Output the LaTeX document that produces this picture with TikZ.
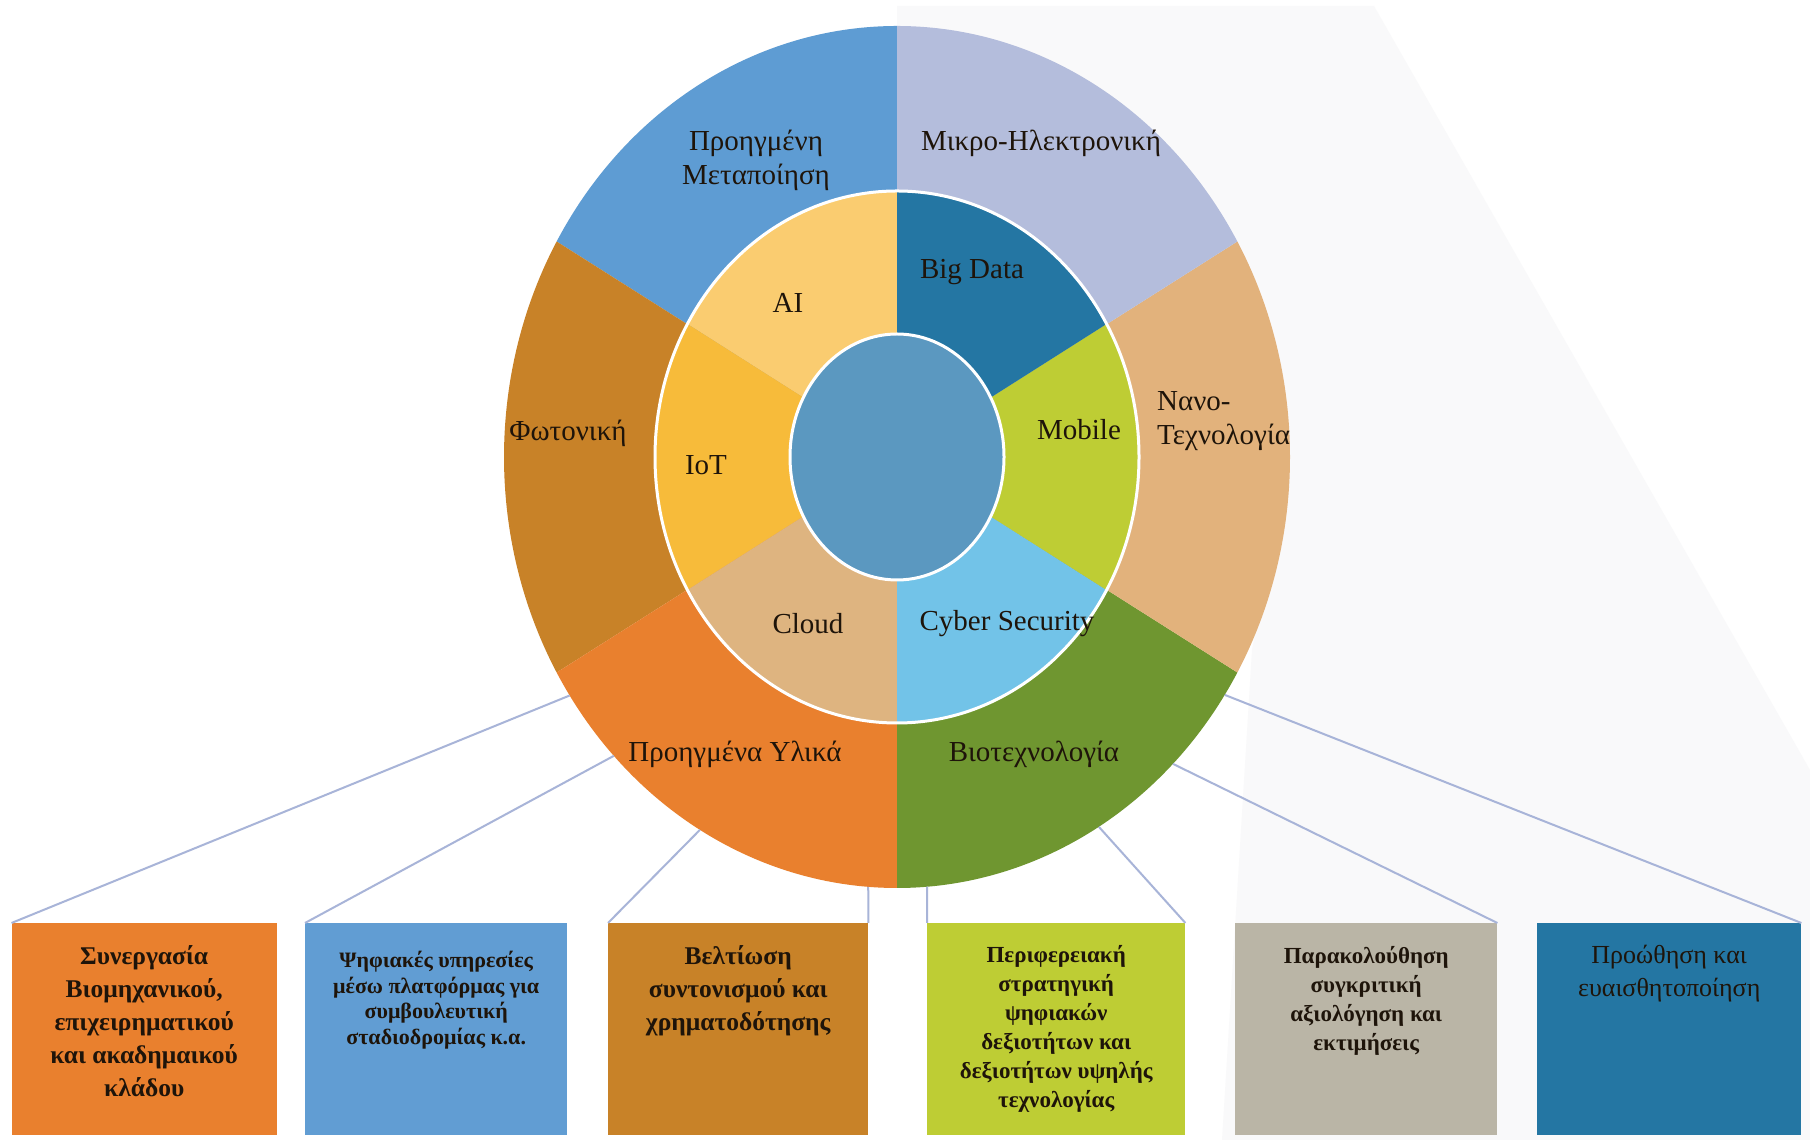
\documentclass[tikz,border=0pt]{standalone}
\usepackage{fontspec}
\setmainfont{Liberation Serif}
\definecolor{cMet}{HTML}{5E9CD3}
\definecolor{cMik}{HTML}{B4BDDC}
\definecolor{cNan}{HTML}{E2B27C}
\definecolor{cBio}{HTML}{6F9630}
\definecolor{cYli}{HTML}{E9802E}
\definecolor{cFot}{HTML}{C88228}
\definecolor{cAI}{HTML}{FACC70}
\definecolor{cBig}{HTML}{2476A3}
\definecolor{cMob}{HTML}{BECD34}
\definecolor{cCyb}{HTML}{72C3E8}
\definecolor{cClo}{HTML}{DEB480}
\definecolor{cIoT}{HTML}{F7BB3A}
\definecolor{cIn}{HTML}{5B98C0}
\definecolor{cBlue}{HTML}{619DD3}
\definecolor{cGrey}{HTML}{BAB5A6}
\definecolor{cBg}{HTML}{F9F9FA}
\definecolor{cLine}{HTML}{A8B4D8}
\definecolor{cTxt}{HTML}{1E140A}
\begin{document}
\begin{tikzpicture}[x=1pt,y=1pt,
  box/.style={draw=none, minimum height=212pt, anchor=north west, inner sep=0pt},
  btext/.style={align=center, anchor=north, inner sep=0pt, text=cTxt},
  lab/.style={align=center, inner sep=0pt, text=cTxt, font=\fontsize{29}{34}\selectfont},
  conn/.style={draw=cLine, line width=2pt}]
\useasboundingbox (0,0) rectangle (1810,1140);
\fill[white] (0,0) rectangle (1810,1140);
\fill[cBg] (897,1134) -- (1374,1134) -- (1810,370) -- (1810,0) -- (1222,0) -- (1252,490) -- (1280,640) -- (897,683) -- cycle;

% boxes
\node[box, fill=cYli,  minimum width=265pt] (b1) at (11.5,217) {};
\node[box, fill=cBlue, minimum width=262pt] (b2) at (305,217) {};
\node[box, fill=cFot,  minimum width=260pt] (b3) at (608,217) {};
\node[box, fill=cMob,  minimum width=258pt] (b4) at (927,217) {};
\node[box, fill=cGrey, minimum width=262pt] (b5) at (1235,217) {};
\node[box, fill=cBig,  minimum width=264pt] (b6) at (1537,217) {};

\node[btext, font=\fontsize{25.5}{33}\selectfont\bfseries] (t1) at ([yshift=-22pt]b1.north) {Συνεργασία\\Βιομηχανικού,\\επιχειρηματικού\\και ακαδημαικού\\κλάδου};
\node[btext, font=\fontsize{22}{25.5}\selectfont\bfseries] (t2) at ([yshift=-28pt]b2.north) {Ψηφιακές υπηρεσίες\\μέσω πλατφόρμας για\\συμβουλευτική\\σταδιοδρομίας κ.α.};
\node[btext, font=\fontsize{25.5}{33}\selectfont\bfseries] (t3) at ([yshift=-22pt]b3.north) {Βελτίωση\\συντονισμού και\\χρηματοδότησης};
\node[btext, font=\fontsize{23}{29}\selectfont\bfseries] (t4) at ([yshift=-22pt]b4.north) {Περιφερειακή\\στρατηγική\\ψηφιακών\\δεξιοτήτων και\\δεξιοτήτων υψηλής\\τεχνολογίας};
\node[btext, font=\fontsize{23}{29}\selectfont\bfseries] (t5) at ([yshift=-23pt]b5.north) {Παρακολούθηση\\συγκριτική\\αξιολόγηση και\\εκτιμήσεις};
\node[btext, font=\fontsize{26}{33}\selectfont] (t6) at ([yshift=-22pt]b6.north) {Προώθηση και\\ευαισθητοποίηση};

% outer ring
\begin{scope}[shift={(897,683)}, xscale=393, yscale=431]
  \fill[cMet] (0,0) -- (90:1)  arc[start angle=90,  end angle=150, radius=1] -- cycle;
  \fill[cFot] (0,0) -- (150:1) arc[start angle=150, end angle=210, radius=1] -- cycle;
  \fill[cYli] (0,0) -- (210:1) arc[start angle=210, end angle=270, radius=1] -- cycle;
  \fill[cBio] (0,0) -- (270:1) arc[start angle=270, end angle=330, radius=1] -- cycle;
  \fill[cNan] (0,0) -- (330:1) arc[start angle=330, end angle=390, radius=1] -- cycle;
  \fill[cMik] (0,0) -- (30:1)  arc[start angle=30,  end angle=90,  radius=1] -- cycle;
  \coordinate (s1) at (213.6:1);
  \coordinate (s2) at (223.9:1);
  \coordinate (s3) at (239.9:1);
  \coordinate (s4) at (265.8:1);
  \coordinate (s5) at (274.4:1);
  \coordinate (s6) at (300.9:1);
  \coordinate (s7) at (314.6:1);
  \coordinate (s8) at (326.5:1);
\end{scope}
% middle ring
\begin{scope}[shift={(897,683)}, xscale=242, yscale=266]
  \fill[cAI]  (0,0) -- (90:1)  arc[start angle=90,  end angle=150, radius=1] -- cycle;
  \fill[cIoT] (0,0) -- (150:1) arc[start angle=150, end angle=210, radius=1] -- cycle;
  \fill[cClo] (0,0) -- (210:1) arc[start angle=210, end angle=270, radius=1] -- cycle;
  \fill[cCyb] (0,0) -- (270:1) arc[start angle=270, end angle=330, radius=1] -- cycle;
  \fill[cMob] (0,0) -- (330:1) arc[start angle=330, end angle=390, radius=1] -- cycle;
  \fill[cBig] (0,0) -- (30:1)  arc[start angle=30,  end angle=90,  radius=1] -- cycle;
  \draw[white, line width=3pt] (0,0) circle[radius=1];
\end{scope}
% inner circle
\begin{scope}[shift={(897,683)}, xscale=107, yscale=123]
  \fill[cIn] (0,0) circle[radius=1];
  \draw[white, line width=3pt] (0,0) circle[radius=1];
\end{scope}

% labels
\node[lab] (lMet) at (756,980) {Προηγμένη\\Μεταποίηση};
\node[lab] (lMik) at (1041,997) {Μικρο-Ηλεκτρονική};
\node[lab] (lFot) at (568,707) {Φωτονική};
\node[lab, align=left, anchor=west] (lNan) at (1157,719) {Νανο-\\Τεχνολογία};
\node[lab] (lYli) at (735,386) {Προηγμένα Υλικά};
\node[lab] (lBio) at (1034,386) {Βιοτεχνολογία};
\node[lab] (lAI) at (788,837) {AI};
\node[lab] (lBig) at (972,868) {Big Data};
\node[lab] (lIoT) at (706,675) {IoT};
\node[lab] (lMob) at (1079,710) {Mobile};
\node[lab] (lClo) at (808,516) {Cloud};
\node[lab] (lCyb) at (1007,516) {Cyber Security};

% connectors
\draw[conn] (s1) -- (b1.north west);
\draw[conn] (s2) -- (b2.north west);
\draw[conn] (s3) -- (b3.north west);
\draw[conn] (s4) -- (b3.north east);
\draw[conn] (s5) -- (b4.north west);
\draw[conn] (s6) -- (b4.north east);
\draw[conn] (s7) -- (b5.north east);
\draw[conn] (s8) -- (b6.north east);
\end{tikzpicture}
\end{document}
